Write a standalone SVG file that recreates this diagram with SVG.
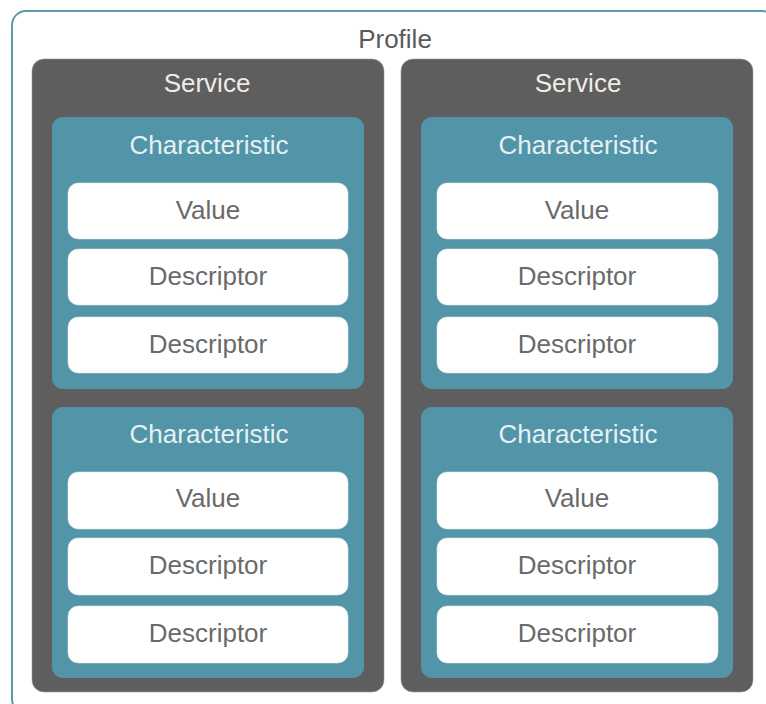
<svg xmlns="http://www.w3.org/2000/svg" width="766" height="704" viewBox="0 0 766 704">
<style>
.profile{fill:#ffffff;stroke:#5b9cab;stroke-width:2}
.svc{fill:#5e5e5e;stroke:#9a9a9a;stroke-width:0.6}
.chr{fill:#5295a8}
.box{fill:#ffffff;stroke:#e2e2e2;stroke-width:0.6}
text{font-family:"Liberation Sans",Arial,sans-serif;font-size:26px;text-anchor:middle}
.t-prof{fill:#5a5a5a}
.t-svc{fill:#f0ece6}
.t-chr{fill:#e6f0f2}
.t-box{fill:#6a6a6a}
</style>
<rect width="766" height="704" fill="#ffffff"/>
<g id="profile">
<rect class="profile" x="12" y="11" width="764" height="702" rx="14"/>
<text class="t-prof" x="395" y="48">Profile</text>
</g>
<g id="service-left">
<rect class="svc" x="32" y="59" width="352" height="633" rx="12"/>
<text class="t-svc" x="207" y="92">Service</text>
</g>
<g id="service-right">
<rect class="svc" x="401" y="59" width="352" height="633" rx="12"/>
<text class="t-svc" x="578" y="92">Service</text>
</g>
<g id="char-l1">
<rect class="chr" x="52" y="117" width="312" height="272" rx="11"/>
<text class="t-chr" x="209" y="154">Characteristic</text>
</g>
<g id="char-l2">
<rect class="chr" x="52" y="407" width="312" height="271" rx="11"/>
<text class="t-chr" x="209" y="443">Characteristic</text>
</g>
<g id="char-r1">
<rect class="chr" x="421" y="117" width="312" height="272" rx="11"/>
<text class="t-chr" x="578" y="154">Characteristic</text>
</g>
<g id="char-r2">
<rect class="chr" x="421" y="407" width="312" height="271" rx="11"/>
<text class="t-chr" x="578" y="443">Characteristic</text>
</g>
<g id="l1-value"><rect class="box" x="68" y="183" width="280" height="56" rx="10"/><text class="t-box" x="208" y="219">Value</text></g>
<g id="l1-desc1"><rect class="box" x="68" y="249" width="280" height="56" rx="10"/><text class="t-box" x="208" y="285">Descriptor</text></g>
<g id="l1-desc2"><rect class="box" x="68" y="317" width="280" height="56" rx="10"/><text class="t-box" x="208" y="353">Descriptor</text></g>
<g id="l2-value"><rect class="box" x="68" y="472" width="280" height="57" rx="10"/><text class="t-box" x="208" y="507">Value</text></g>
<g id="l2-desc1"><rect class="box" x="68" y="538" width="280" height="57" rx="10"/><text class="t-box" x="208" y="574">Descriptor</text></g>
<g id="l2-desc2"><rect class="box" x="68" y="606" width="280" height="57" rx="10"/><text class="t-box" x="208" y="642">Descriptor</text></g>
<g id="r1-value"><rect class="box" x="437" y="183" width="281" height="56" rx="10"/><text class="t-box" x="577" y="219">Value</text></g>
<g id="r1-desc1"><rect class="box" x="437" y="249" width="281" height="56" rx="10"/><text class="t-box" x="577" y="285">Descriptor</text></g>
<g id="r1-desc2"><rect class="box" x="437" y="317" width="281" height="56" rx="10"/><text class="t-box" x="577" y="353">Descriptor</text></g>
<g id="r2-value"><rect class="box" x="437" y="472" width="281" height="57" rx="10"/><text class="t-box" x="577" y="507">Value</text></g>
<g id="r2-desc1"><rect class="box" x="437" y="538" width="281" height="57" rx="10"/><text class="t-box" x="577" y="574">Descriptor</text></g>
<g id="r2-desc2"><rect class="box" x="437" y="606" width="281" height="57" rx="10"/><text class="t-box" x="577" y="642">Descriptor</text></g>
<g id="connectors"></g>
</svg>
